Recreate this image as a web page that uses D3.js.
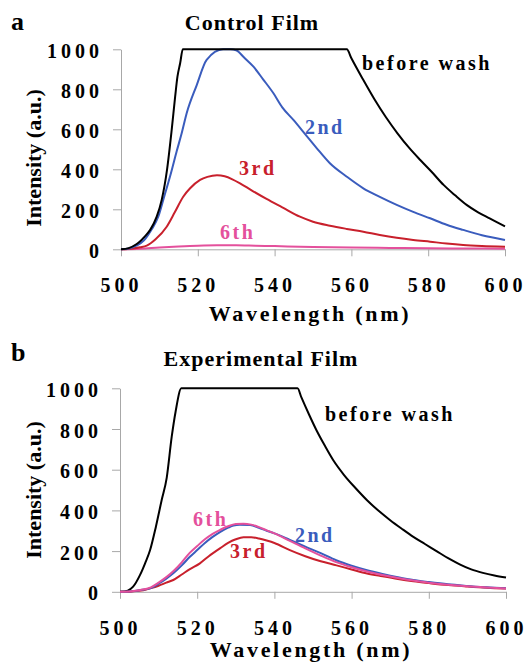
<!DOCTYPE html>
<html>
<head>
<meta charset="utf-8">
<script src="https://cdn.jsdelivr.net/npm/d3@7"></script>
<style>
  body { margin: 0; background: #fff; }
  svg { display: block; }
  svg text { font-family: "Liberation Serif", "Times New Roman", serif; font-weight: bold; }
</style>
</head>
<body>
<svg id="chart" width="526" height="662"></svg>
<script>
// tick labels
var xTicks = [500, 520, 540, 560, 580, 600];
var yTicks = [0, 200, 400, 600, 800, 1000];

// panel a - control film, [wavelength nm, intensity a.u.]
var ctrlBefore = [[500,0],[502,6],[504,25],[505,40],[506,60],[507.6,97],[509.3,163],[510.6,247],[512,400],[513.2,597],[514.1,763],[514.7,863],[515.4,930],[516.1,1000],
  [558.8,1000],[560,955],[563,850],[566,750],[569,660],[572,580],[575,508],[578,445],[581,385],[584,322],[587,270],[590,222],[593,185],[596,155],[600,115]];
var ctrl2nd = [[500,0],[502,4],[504,18],[506,45],[508,100],[509.7,163],[511,247],[513,380],[514.5,490],[515.8,580],[517.1,680],[519.7,820],[522.3,947],[526.6,1000],[528.5,1000],
  [530,995],[532,960],[534.5,913],[537,850],[539.7,780],[542,710],[544.9,647],[548,575],[551,505],[554.4,430],[558.8,363],[563.1,305],[567.4,262],[571.8,222],[576.1,187],
  [580.5,155],[584.8,123],[589.1,97],[594,70],[600,47]];
var ctrl3rd = [[500,0],[503,4],[505,10],[506.7,18],[509,50],[511.9,113],[514,185],[516.2,263],[518,305],[520.6,347],[522.5,362],[525,370],[527,365],[529,350],[531,330],
  [534,295],[537.9,252],[542,210],[546.6,163],[550,138],[554.4,118],[558.8,102],[563.1,88],[567.4,72],[571.8,58],[576.1,47],[580.5,38],[584.8,29],[589.1,22],[594,17],[600,13]];
var ctrl6th = [[500,0],[505,3],[510,9],[515,14],[520,18],[525,20],[530,20],[535,18],[540,16],[550,12],[560,9],[570,7],[580,5],[590,4],[600,3]];

// panel b - experimental film
var expBefore = [[500,0],[502,6],[503.4,25],[505.2,83],[506.5,140],[507.8,205],[509.3,320],[510.8,451],[512.1,560],[513.4,762],[514.4,885],[515.9,1000],
  [546,1000],[547,955],[549,870],[551,790],[553,720],[555.3,645],[558,575],[561,510],[564,450],[567,398],[570,352],[573,310],[576,270],[579,235],[582,200],[585,165],
  [588,135],[591,110],[594,93],[597,80],[600,70]];
var exp2nd = [[500,0],[503,3],[505,8],[507.8,17],[510,40],[512,65],[513.8,91],[516,130],[518.1,172],[520,205],[522,240],[524,270],[526,295],[528,315],[529.4,326],[531,330],
  [533.7,328],[536,315],[538,300],[540,287],[544,255],[548,222],[552,190],[556,155],[560,128],[564,106],[568,88],[572,72],[576,58],[580,48],[585,37],[590,29],[595,22],[600,18]];
var exp3rd = [[500,0],[503,2],[506,8],[508,18],[510,30],[512,45],[513.8,58],[516,85],[518,110],[520.7,140],[523,175],[526,215],[528,240],[530,258],[532,268],[534,268],
  [536,262],[538,252],[540,240],[544,205],[548,175],[552,150],[556.1,130],[560,110],[564,90],[568,76],[572,63],[576,52],[580,43],[585,33],[590,26],[595,20],[600,16]];
var exp6th = [[500,0],[503,3],[505,8],[508,22],[510,45],[512,72],[514,105],[516,145],[518,190],[520,225],[522,258],[524,285],[526,305],[528,322],[530,333],[532,335],
  [534,330],[536,318],[538,302],[540,287],[544,250],[548,213],[552,178],[556,146],[560,121],[564,100],[568,83],[572,68],[576,55],[580,45],[585,35],[590,27],[595,21],[600,16]];

var BLACK = "#000", BLUE = "#3a5cbd", RED = "#c8202c", PINK = "#e4509c";
var AXIS = "#a8a8a8";

var svg = d3.select("#chart");

function drawPanel(p) {
  var x = d3.scaleLinear().domain([500, 600]).range([p.left, p.right]);
  var y = d3.scaleLinear().domain([0, 1000]).range([p.bottom, p.top]);
  var g = svg.append("g");

  // panel letter + title
  g.append("text").attr("x", 11).attr("y", p.letterY).attr("font-size", 26).text(p.letter);
  g.append("text").attr("x", p.titleX).attr("y", p.titleY).attr("text-anchor", "middle")
    .attr("font-size", 22).attr("letter-spacing", 1).text(p.title);

  // y axis
  var ya = g.append("g").attr("transform", "translate(" + p.left + ",0)")
    .call(d3.axisLeft(y).tickValues(yTicks).tickFormat(d3.format("d"))
      .tickSize(8).tickSizeOuter(0).tickPadding(14));
  ya.select(".domain").attr("stroke", AXIS);
  ya.selectAll(".tick line").attr("stroke", AXIS);
  ya.selectAll(".tick text").style("font-size", "20px").attr("fill", "#000")
    .attr("letter-spacing", 4).attr("dy", "0.4em").attr("dx", 4);

  // x axis
  var xa = g.append("g").attr("transform", "translate(0," + p.bottom + ")")
    .call(d3.axisBottom(x).tickValues(xTicks).tickSize(7).tickSizeOuter(0).tickPadding(22));
  xa.select(".domain").attr("stroke", AXIS);
  xa.selectAll(".tick line").attr("stroke", AXIS);
  xa.selectAll(".tick text").style("font-size", "20px").attr("fill", "#000")
    .attr("letter-spacing", 4).attr("dy", "0.71em");

  // axis titles
  g.append("text").attr("transform", "translate(41," + p.yTitleY + ") rotate(-90)")
    .attr("text-anchor", "middle").attr("font-size", 22).text("Intensity (a.u.)");
  g.append("text").attr("x", p.xTitleX).attr("y", p.xTitleY).attr("text-anchor", "middle")
    .attr("font-size", 22).attr("letter-spacing", 2.7).text("Wavelength (nm)");

  var line = d3.line().x(function(d){ return x(d[0]); }).y(function(d){ return y(d[1]); })
    .curve(d3.curveMonotoneX);

  p.series.forEach(function(s){
    g.append("path").datum(s.data).attr("fill", "none").attr("stroke", s.color)
      .attr("stroke-width", 2).attr("stroke-linejoin", "round").attr("d", line);
  });

  p.labels.forEach(function(l){
    g.append("text").attr("x", l.x).attr("y", l.y).attr("font-size", 20)
      .attr("letter-spacing", 2.5).attr("fill", l.color).text(l.text);
  });
}

drawPanel({
  letter: "a", letterY: 30, title: "Control Film", titleX: 252, titleY: 30,
  left: 121, right: 505, top: 49.3, bottom: 249.3,
  yTitleY: 158, xTitleX: 310, xTitleY: 321,
  series: [
    { data: ctrl6th, color: PINK },
    { data: ctrl3rd, color: RED },
    { data: ctrl2nd, color: BLUE },
    { data: ctrlBefore, color: BLACK }
  ],
  labels: [
    { text: "before wash", x: 362, y: 70, color: BLACK },
    { text: "2nd", x: 305, y: 134, color: BLUE },
    { text: "3rd", x: 239, y: 175, color: RED },
    { text: "6th", x: 220, y: 239, color: PINK }
  ]
});

drawPanel({
  letter: "b", letterY: 361, title: "Experimental Film", titleX: 261, titleY: 366,
  left: 120, right: 506, top: 388.3, bottom: 591.8,
  yTitleY: 490, xTitleX: 311, xTitleY: 657,
  series: [
    { data: expBefore, color: BLACK },
    { data: exp3rd, color: RED },
    { data: exp2nd, color: BLUE },
    { data: exp6th, color: PINK }
  ],
  labels: [
    { text: "before wash", x: 325, y: 421, color: BLACK },
    { text: "6th", x: 193, y: 526, color: PINK },
    { text: "2nd", x: 295, y: 542, color: BLUE },
    { text: "3rd", x: 230, y: 558, color: RED }
  ]
});
</script>
</body>
</html>
